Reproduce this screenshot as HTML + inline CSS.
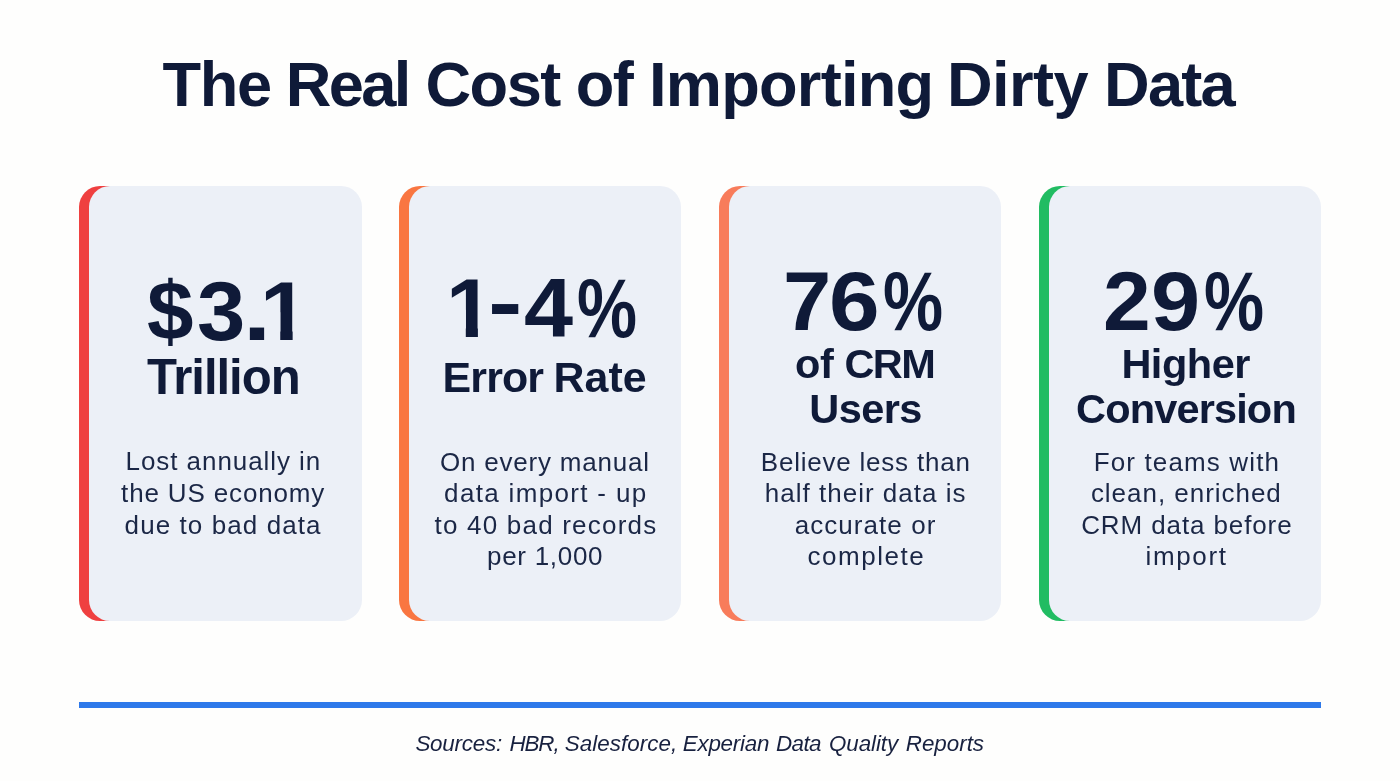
<!DOCTYPE html>
<html lang="en">
<head>
<meta charset="utf-8">
<title>The Real Cost of Importing Dirty Data</title>
<style>
html,body{margin:0;padding:0;}
body{width:1400px;height:781px;background:#fefefd;position:relative;overflow:hidden;font-family:"Liberation Sans",sans-serif;color:#0f1a38;}
.t{position:absolute;white-space:nowrap;line-height:1;margin:0;}
#stage{position:absolute;left:0;top:0;width:1400px;height:781px;will-change:transform;}
.h,.big,.sub{font-weight:700;}
.w{width:1100px;height:1em;}
.w span{position:absolute;top:0;display:block;}
.big{width:200px;height:1em;}
.big span{position:absolute;top:0;transform-origin:0 0;display:block;}
.big .one{clip-path:polygon(0 0,0.374em 0,0.374em 100%,0.232em 100%,0.232em 0.5em,0 0.5em);}
.big .hy{margin-top:-0.074em;}
.desc{font-weight:400;color:#1b2746;}
.src{font-style:italic;color:#18213f;}
.card{position:absolute;top:186.4px;width:282px;height:434.8px;}
.card .bar{position:absolute;left:0;top:0;width:60px;height:100%;border-radius:21px 0 0 21px;}
.card .in{position:absolute;left:10px;top:0;right:0;bottom:0;border-radius:21px;background:#ecf0f7;}
.c1{left:79px;width:282.5px;} .c1 .bar{background:#ef4040;}
.c2{left:398.5px;width:282.5px;} .c2 .bar{background:#f97641;}
.c3{left:718.5px;width:282.8px;} .c3 .bar{background:#f87c5b;}
.c4{left:1038.7px;width:282.3px;} .c4 .bar{background:#21bc62;}
.rule{position:absolute;left:79px;top:702px;width:1242px;height:6px;background:#2e79ea;}
</style>
</head>
<body>
<div class="card c1"><div class="bar"></div><div class="in"></div></div>
<div class="card c2"><div class="bar"></div><div class="in"></div></div>
<div class="card c3"><div class="bar"></div><div class="in"></div></div>
<div class="card c4"><div class="bar"></div><div class="in"></div></div>
<div class="rule"></div>
<div id="stage">
<h1 class="t h w" id="title" style="left:162.5px;top:53.4px;font-size:63.2px;"><span style="left:0.0px;letter-spacing:-1.29px;">The</span> <span style="left:123.3px;letter-spacing:-2.64px;">Real</span> <span style="left:263.0px;letter-spacing:-1.55px;">Cost</span> <span style="left:413.3px;letter-spacing:-1.56px;">of</span> <span style="left:486.5px;letter-spacing:-0.77px;">Importing</span> <span style="left:784.5px;letter-spacing:-0.56px;">Dirty</span> <span style="left:941.5px;letter-spacing:-1.75px;">Data</span></h1>
<div class="t big" id="b1" style="left:148.0px;top:270.7px;font-size:82.9px;"><span style="left:-1.0px;transform:scaleX(1.008);">$</span><span style="left:49.4px;transform:scaleX(1.047);">3</span><span style="left:94.8px;transform:scaleX(1.219);">.</span><span class="one" style="left:111.7px;transform:scaleX(1.053);">1</span></div>
<div class="t sub" id="s1" style="left:147.0px;top:352.7px;font-size:49.1px;letter-spacing:-1.04px;">Trillion</div>
<div class="t desc" id="d1a" style="left:125.6px;top:448.4px;font-size:26.0px;letter-spacing:0.93px;">Lost annually in</div>
<div class="t desc" id="d1b" style="left:121.1px;top:479.9px;font-size:26.0px;letter-spacing:0.85px;">the US economy</div>
<div class="t desc" id="d1c" style="left:124.6px;top:511.7px;font-size:26.0px;letter-spacing:1.09px;">due to bad data</div>
<div class="t big" id="b2" style="left:452.2px;top:268.4px;font-size:82.9px;"><span class="one" style="left:-5.8px;transform:scaleX(1.029);">1</span><span class="hy" style="left:35.4px;transform:scaleX(1.247);">-</span><span style="left:71.7px;transform:scaleX(1.064);">4</span><span style="left:124.8px;transform:scaleX(0.814);">%</span></div>
<div class="t sub w" id="s2" style="left:445.2px;top:356.3px;font-size:42.9px;"><span style="left:-2.7px;letter-spacing:-0.83px;">Error</span> <span style="left:108.2px;letter-spacing:0.12px;">Rate</span></div>
<div class="t desc" id="d2a" style="left:440.0px;top:448.5px;font-size:26.0px;letter-spacing:0.79px;">On every manual</div>
<div class="t desc" id="d2b" style="left:444.1px;top:480.1px;font-size:26.0px;letter-spacing:1.33px;">data import - up</div>
<div class="t desc" id="d2c" style="left:434.5px;top:511.8px;font-size:26.0px;letter-spacing:1.21px;">to 40 bad records</div>
<div class="t desc" id="d2d" style="left:487.0px;top:543.2px;font-size:26.0px;letter-spacing:0.71px;">per 1,000</div>
<div class="t big" id="b3" style="left:786.7px;top:260.7px;font-size:82.9px;"><span style="left:-3.7px;transform:scaleX(1.047);">7</span><span style="left:42.6px;transform:scaleX(1.098);">6</span><span style="left:96.1px;transform:scaleX(0.815);">%</span></div>
<div class="t sub w" id="s3a" style="left:796.4px;top:343.2px;font-size:41.5px;"><span style="left:-1.3px;letter-spacing:-0.32px;">of</span> <span style="left:48.2px;letter-spacing:-1.68px;">CRM</span></div>
<div class="t sub" id="s3b" style="left:809.3px;top:387.6px;font-size:41.5px;letter-spacing:-0.56px;">Users</div>
<div class="t desc" id="d3a" style="left:760.8px;top:448.5px;font-size:26.0px;letter-spacing:0.78px;">Believe less than</div>
<div class="t desc" id="d3b" style="left:764.8px;top:480.2px;font-size:26.0px;letter-spacing:1.01px;">half their data is</div>
<div class="t desc" id="d3c" style="left:794.7px;top:511.8px;font-size:26.0px;letter-spacing:1.06px;">accurate or</div>
<div class="t desc" id="d3d" style="left:807.6px;top:543.2px;font-size:26.0px;letter-spacing:1.50px;">complete</div>
<div class="t big" id="b4" style="left:1105.9px;top:260.7px;font-size:82.9px;"><span style="left:-3.0px;transform:scaleX(1.035);">2</span><span style="left:45.6px;transform:scaleX(1.065);">9</span><span style="left:98.5px;transform:scaleX(0.815);">%</span></div>
<div class="t sub" id="s4a" style="left:1121.4px;top:343.1px;font-size:41.5px;letter-spacing:-0.49px;">Higher</div>
<div class="t sub" id="s4b" style="left:1076.0px;top:387.6px;font-size:41.5px;letter-spacing:-0.84px;">Conversion</div>
<div class="t desc" id="d4a" style="left:1093.7px;top:448.5px;font-size:26.0px;letter-spacing:1.14px;">For teams with</div>
<div class="t desc" id="d4b" style="left:1090.9px;top:480.1px;font-size:26.0px;letter-spacing:0.97px;">clean, enriched</div>
<div class="t desc" id="d4c" style="left:1081.2px;top:511.8px;font-size:26.0px;letter-spacing:0.89px;">CRM data before</div>
<div class="t desc" id="d4d" style="left:1145.5px;top:543.2px;font-size:26.0px;letter-spacing:1.64px;">import</div>
<div class="t src w" id="src" style="left:416.0px;top:732.9px;font-size:22.4px;"><span style="left:-0.6px;letter-spacing:-0.22px;">Sources:</span> <span style="left:93.4px;letter-spacing:-1.06px;">HBR,</span> <span style="left:148.7px;letter-spacing:0.06px;">Salesforce,</span> <span style="left:266.7px;letter-spacing:-0.22px;">Experian</span> <span style="left:360.1px;letter-spacing:-0.66px;">Data</span> <span style="left:413.0px;letter-spacing:-0.10px;">Quality</span> <span style="left:489.8px;letter-spacing:-0.03px;">Reports</span></div>
</div>
</body>
</html>
